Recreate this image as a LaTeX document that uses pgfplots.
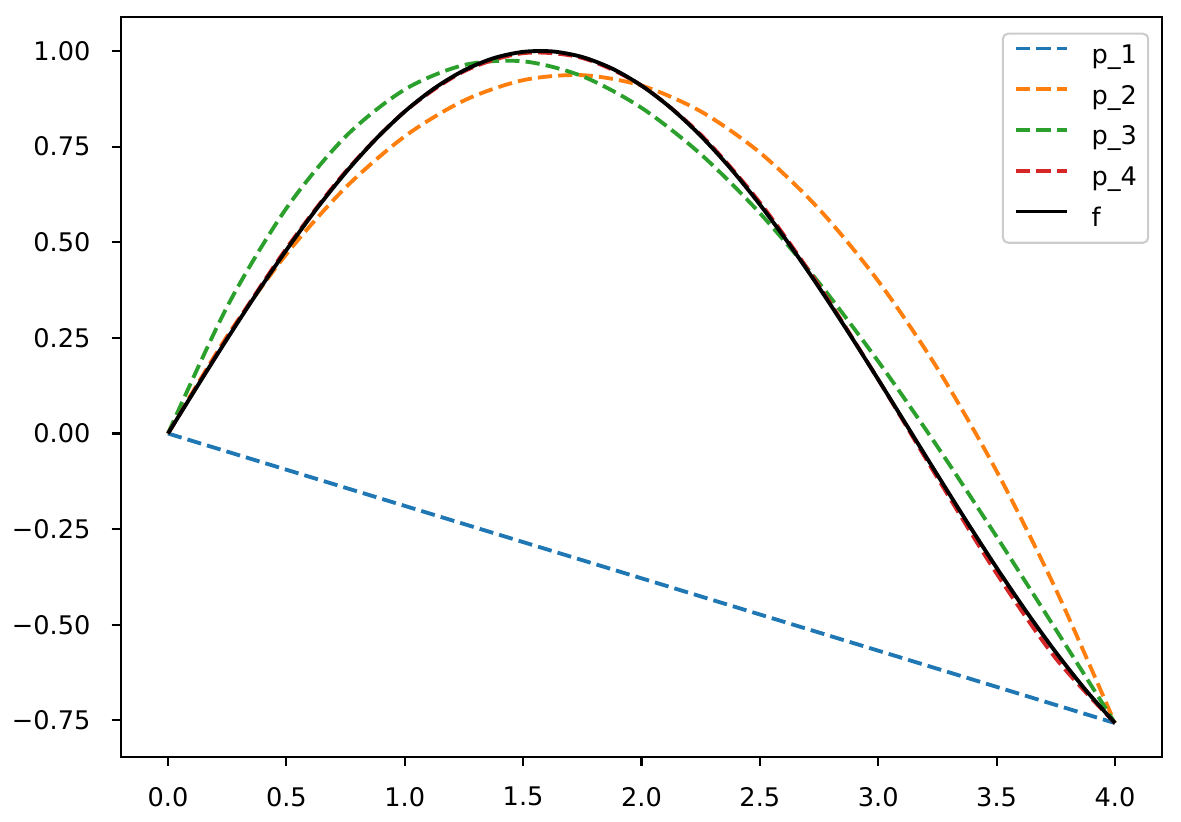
\documentclass[border=0pt]{standalone}
\usepackage{fontspec}
\setmainfont{DejaVu Sans}
\usepackage{pgfplots}
\pgfplotsset{compat=1.18}
\definecolor{C0}{HTML}{1F77B4}
\definecolor{C1}{HTML}{FF7F0E}
\definecolor{C2}{HTML}{2CA02C}
\definecolor{C3}{HTML}{D62728}
\begin{document}
\begin{tikzpicture}
\begin{axis}[
  scale only axis,
  width=406.6pt, height=288.6pt,
  xmin=-0.2, xmax=4.2,
  ymin=-0.84454, ymax=1.08784,
  axis line style={line width=0.8pt, black},
  tick align=outside,
  major tick length=3.5pt,
  tick style={line width=0.8pt, black},
  xtick pos=bottom, ytick pos=left,
  xtick={0,0.5,1,1.5,2,2.5,3,3.5,4},
  xticklabels={0.0,0.5,1.0,1.5,2.0,2.5,3.0,3.5,4.0},
  ytick={-0.75,-0.5,-0.25,0,0.25,0.5,0.75,1},
  yticklabels={−0.75,−0.50,−0.25,0.00,0.25,0.50,0.75,1.00},
  ticklabel style={font=\fontsize{10}{12}\selectfont, inner sep=0pt},
  yticklabel style={anchor=east, xshift=-8.1pt},
  xticklabel style={anchor=north, yshift=-8.2pt},
  legend cell align=left,
  legend image code/.code={\draw[#1] (0pt,3.2pt) -- (20pt,3.2pt);},
  legend style={at={(1,1)}, anchor=north east, xshift=-5.1pt, yshift=-6pt,
    draw=black!20, line width=0.8pt, rounded corners=2pt, fill=white, fill opacity=0.8, text opacity=1,
    inner xsep=4.4pt, inner ysep=4pt, row sep=5.9pt, column sep=0pt,
    font=\fontsize{10}{12}\selectfont,
    nodes={inner sep=0pt, text height=7.6pt, text depth=2.4pt},
    /tikz/every odd column/.append style={column sep=8.7pt}},
  every axis plot/.append style={line width=1.5pt, line join=round},
]
\addplot[C0, dash pattern=on 5.55pt off 2.4pt] coordinates {(0,0) (4,-0.756802)};
\addlegendentry{p\_1}
\addplot[C1, dash pattern=on 5.55pt off 2.4pt, smooth] coordinates {
(0,0) (0.25,0.254512) (0.5,0.468781) (0.75,0.642812) (1,0.776604) (1.25,0.870157)
(1.5,0.923471) (1.75,0.936547) (2,0.909297) (2.25,0.841970) (2.5,0.734317)
(2.75,0.586586) (3,0.398527) (3.25,0.170219) (3.5,-0.098332) (3.75,-0.407107) (4,-0.756802)};
\addlegendentry{p\_2}
\addplot[C2, dash pattern=on 5.55pt off 2.4pt, smooth] coordinates {
(0,0) (0.25,0.331704) (0.5,0.588658) (0.75,0.776051) (1,0.899073) (1.25,0.962914)
(1.5,0.972760) (1.75,0.933804) (2,0.851231) (2.25,0.730232) (2.5,0.575997)
(2.75,0.393715) (3,0.188572) (3.25,-0.034240) (3.5,-0.269532) (3.75,-0.512116) (4,-0.756802)};
\addlegendentry{p\_3}
\addplot[C3, dash pattern=on 5.55pt off 2.4pt, smooth] coordinates {
(0,0) (0.25,0.250589) (0.5,0.483521) (0.75,0.684307) (1,0.841471) (1.25,0.946529)
(1.5,0.994002) (1.75,0.981415) (2,0.909297) (2.25,0.781173) (2.5,0.603581)
(2.75,0.386049) (3,0.141120) (3.25,-0.115677) (3.5,-0.365789) (3.75,-0.587680) (4,-0.756802)};
\addlegendentry{p\_4}
\addplot[black, smooth] coordinates {
(0,0) (0.125,0.124675) (0.25,0.247404) (0.375,0.366273) (0.5,0.479426) (0.625,0.585097)
(0.75,0.681639) (0.875,0.767543) (1,0.841471) (1.125,0.902268) (1.25,0.948985)
(1.375,0.980893) (1.5,0.997495) (1.625,0.998531) (1.75,0.983986) (1.875,0.954086)
(2,0.909297) (2.125,0.850320) (2.25,0.778073) (2.375,0.693684) (2.5,0.598472)
(2.625,0.493921) (2.75,0.381661) (2.875,0.263446) (3,0.141120) (3.125,0.016592)
(3.25,-0.108195) (3.375,-0.231294) (3.5,-0.350783) (3.625,-0.464799) (3.75,-0.571561)
(3.875,-0.669404) (4,-0.756802)};
\addlegendentry{f}
\coordinate (sw) at (rel axis cs:0,0);
\coordinate (ne) at (rel axis cs:1,1);
\end{axis}
\pgfresetboundingbox
\path[use as bounding box] ([shift={(-47.1pt,-25.5pt)}]sw) rectangle ([shift={(7.3pt,6.75pt)}]ne);
\end{tikzpicture}
\end{document}
